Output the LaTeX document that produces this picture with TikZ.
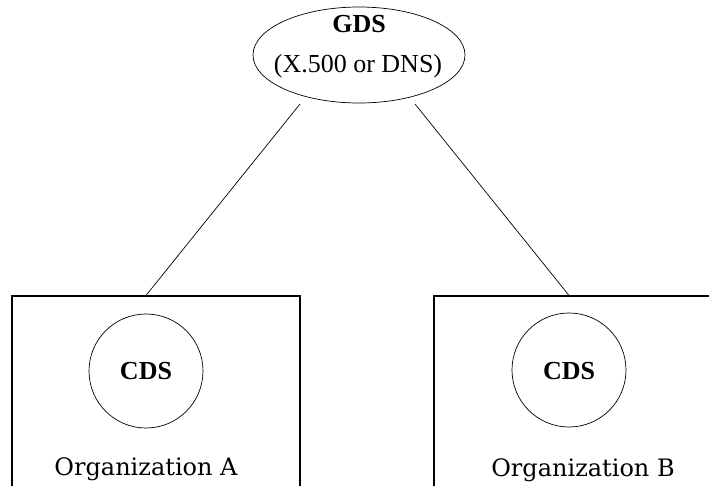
\documentclass[tikz,border=0pt]{standalone}
\usepackage{fontspec}
\setmainfont{Liberation Serif}
\newfontfamily\orgfont{DejaVu Serif}
\usetikzlibrary{shapes.geometric}
\begin{document}
\begin{tikzpicture}[x=1pt,y=1pt,
  thinline/.style={line width=0.7pt},
  orgbox/.style={draw, line width=1.1pt, rectangle, inner sep=0pt},
  cdscircle/.style={draw, circle, line width=0.7pt, minimum size=114pt, inner sep=0pt},
  boldlabel/.style={font=\fontsize{26}{30}\selectfont\bfseries, anchor=base, inner sep=0pt},
  plainlabel/.style={font=\fontsize{26}{30}\selectfont, anchor=base, inner sep=0pt},
  orglabel/.style={font=\orgfont\fontsize{24}{28}\selectfont, anchor=base, inner sep=0pt}]
\useasboundingbox (0,0) rectangle (709,-485);
\clip (0,0) rectangle (709,-485);
% GDS ellipse
\node[draw, ellipse, thinline, minimum width=212pt, minimum height=96pt, inner sep=0pt] (gds) at (359,-55) {};
\node[boldlabel] (gdst) at (359,-32) {GDS};
\node[plainlabel] (gdss) at (358,-72) {(X.500 or DNS)};
% organization boxes
\node[orgbox, minimum width=288pt, minimum height=214pt] (boxA) at (156,-403) {};
\node[orgbox, minimum width=290pt, minimum height=214pt] (boxB) at (579,-403) {};
% CDS circles
\node[cdscircle] (cdsA) at (146,-371) {};
\node[cdscircle] (cdsB) at (569,-370) {};
\node[boldlabel] (cdsAt) at (146,-379) {CDS};
\node[boldlabel] (cdsBt) at (569,-379) {CDS};
\node[orglabel] (orgA) at (146,-475) {Organization A};
\node[orglabel] (orgB) at (583,-476) {Organization B};
% connectors
\coordinate (la) at (300,-104);
\coordinate (lb) at (415,-104);
\draw[thinline] (la) -- (boxA.north -| cdsA);
\draw[thinline] (lb) -- (boxB.north -| cdsB);
\end{tikzpicture}
\end{document}
